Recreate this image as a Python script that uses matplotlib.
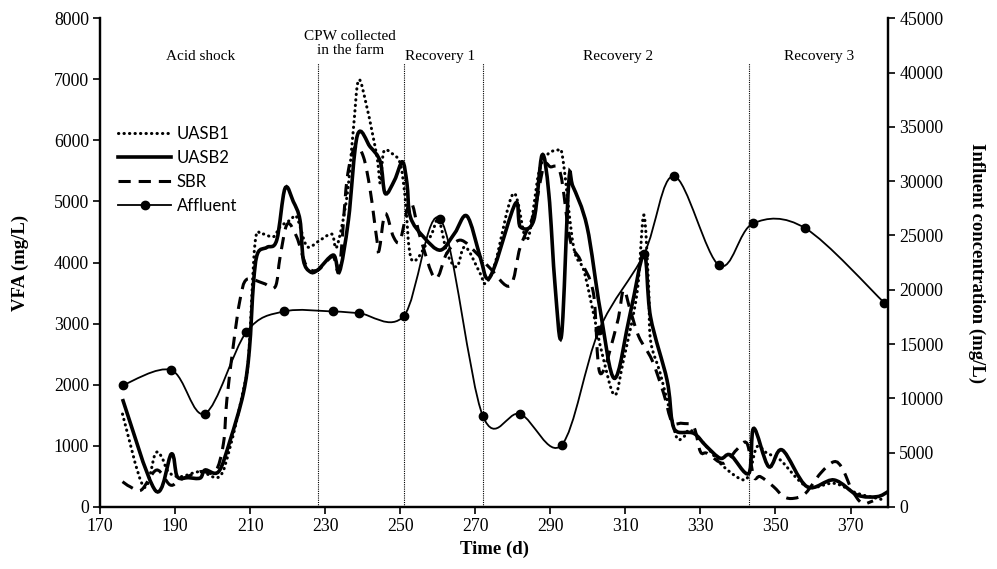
import numpy as np
import matplotlib
matplotlib.use("Agg")
import matplotlib.pyplot as plt
from matplotlib.path import Path
from matplotlib.patches import PathPatch
from matplotlib.lines import Line2D

# VFA series (mg/L)
uasb1_day = [176, 181.6, 184.7, 186.4, 188.2, 191.3, 196.7, 201.8, 204.7, 208.2, 209.6, 211.3,
             213.1, 216.2, 218, 220.7, 222.4, 224.7, 226, 228.7, 231.8, 233.1, 235.8, 237.5,
             238.9, 241.1, 243.8, 244.7, 245.6, 247.8, 250, 251.3, 253.1, 258, 260.2, 262.5,
             265.1, 267.3, 271.3, 272.7, 275.3, 280.2, 283.8, 286.9, 289.1, 292.2, 293.4,
             296.2, 298.9, 301.5, 303.8, 307.1, 309.5, 313.1, 314.9, 316.2, 316.7, 319.3,
             322, 323.8, 325.6, 327.3, 330.9, 336.2, 341.5, 343.3, 345.1, 347.8, 351.3,
             358.4, 365.6, 371.8, 378.9]
uasb1_vfa = [1521, 333, 867, 823, 578, 496, 578, 496, 987, 1914, 2459, 4313,
             4466, 4422, 4586, 4695, 4749, 4313, 4258, 4368, 4466, 4258, 5077, 6168,
             6986, 6549, 5731, 5296, 5813, 5786, 5623, 5077, 4041, 4422, 4707, 4150,
             3931, 4258, 3823, 3660, 3990, 5132, 4368, 5459, 5759, 5841, 5677,
             4258, 3877, 3169, 2514, 1832, 2405, 3496, 4777, 3604, 2732, 2187,
             1533, 1124, 1151, 1260, 1042, 660, 442, 605, 987, 878, 769,
             333, 387, 224, 115]

uasb2_day = [176, 184.8, 189, 190.6, 193.5, 196.7, 198, 201.6, 204.7, 208.2, 209.8, 210.9,
             212, 214.5, 217.1, 219.3, 221.5, 223.3, 224.2, 226, 228, 232.2, 233.8, 236.2,
             238.6, 242, 244.7, 246, 248.5, 250.6, 251.8, 252.7, 256.2, 260.7, 264.5, 267.8,
             271.3, 273.1, 275.3, 280.7, 282, 285.6, 287.8, 289.6, 291.3, 293, 294.9, 296,
             299.8, 303.3, 307.1, 311.3, 315, 316.7, 321.1, 322.4, 323.8, 328.2, 331.5,
             335.3, 338, 342.9, 344.2, 348.2, 351.8, 358.4, 365.6, 371.8, 377.1, 380]
uasb2_vfa = [1767, 267, 867, 496, 480, 474, 605, 578, 1096, 1860, 2568, 3660,
             4150, 4250, 4368, 5214, 5000, 4695, 4041, 3850, 3877, 4123, 3850, 4695,
             6086, 5894, 5650, 5132, 5350, 5650, 5296, 4749, 4422, 4204, 4480, 4761,
             4095, 3741, 3959, 4968, 4586, 4695, 5759, 5132, 3600, 2814, 5296, 5250,
             4586, 3223, 2105, 3169, 4139, 3114, 2078, 1423, 1232, 1206, 1000,
             797, 851, 551, 1287, 660, 933, 333, 442, 196, 169, 251]

sbr_day = [176, 178, 181, 185.1, 188.7, 191.3, 196.7, 200.7, 202.9, 203.8, 205.6, 207.3,
           209.1, 213.6, 216.7, 218, 219.9, 222.4, 225, 228, 232, 233.8, 235.8, 238, 240.2,
           242, 243.8, 244.4, 246, 248.2, 250, 252.7, 255.3, 259.3, 262.4, 266, 270.4, 274,
           279.3, 282, 285.6, 288.2, 290, 292.7, 295.3, 298, 301.5, 303.3, 307.8, 309.5,
           311.3, 313.6, 317.1, 320.2, 322.4, 325.1, 328.2, 330, 331.8, 336.2, 339.6, 342.4,
           344.2, 346, 349.5, 352.2, 354.9, 358, 362, 365.6, 367.8, 370.4, 373.1, 376]
sbr_vfa = [414, 333, 278, 605, 360, 442, 578, 578, 1041, 1750, 2678, 3387,
           3725, 3660, 3604, 4095, 4630, 4422, 3950, 3877, 4100, 3900, 5350, 5894, 5731,
           5186, 4368, 4204, 4800, 4422, 4368, 4995, 4422, 3741, 4150, 4368, 4150, 3905,
           3620, 4258, 4804, 5568, 5568, 5459, 4368, 4041, 3496, 2187, 3005, 3550,
           3223, 2786, 2405, 1860, 1396, 1369, 1314, 905, 878, 715, 933, 1042,
           496, 496, 332, 169, 142, 224, 551, 741, 633, 278, 60, 100]

# influent concentration (mg/L), right axis
aff_day = [176, 189, 198, 209, 219, 232, 239, 251, 260.7, 272, 282, 293, 303, 315, 323, 335,
           344, 358, 379]
aff_conc = [11200, 12600, 8600, 16100, 18000, 18000, 17850, 17600, 26500, 8400, 8560, 5700,
            16300, 23300, 30460, 22240, 26100, 25650, 18800]

phase_lines = [228, 251, 272, 343]
phase_labels = ["Acid shock", "CPW collected\nin the farm", "Recovery 1", "Recovery 2", "Recovery 3"]
phase_label_x = [196.7, 236.7, 260.7, 308, 361.5]


def smooth_path(x, y):
    # excel-style smoothed line through the points (catmull-rom as bezier)
    pts = np.column_stack([x, y]).astype(float)
    n = len(pts)
    verts = [pts[0]]
    codes = [Path.MOVETO]
    for i in range(n - 1):
        p0 = pts[i - 1] if i > 0 else pts[i]
        p1, p2 = pts[i], pts[i + 1]
        p3 = pts[i + 2] if i + 2 < n else pts[i + 1]
        verts += [p1 + (p2 - p0) / 6, p2 - (p3 - p1) / 6, p2]
        codes += [Path.CURVE4] * 3
    return Path(verts, codes)


serif = "Liberation Serif"
plt.rcParams["font.family"] = serif

fig = plt.figure(figsize=(9.97, 5.69), dpi=100)
ax = fig.add_subplot(111)
fig.subplots_adjust(left=0.1003, right=0.8907, bottom=0.109, top=0.968)
ax2 = ax.twinx()

dot_style = dict(lw=2.2, ls=(0, (0.1, 1.7)), capstyle="round")
solid_style = dict(lw=2.6, ls="-")
dash_style = dict(lw=2.2, ls=(0, (4, 2.6)))

ax.add_patch(PathPatch(smooth_path(uasb1_day, uasb1_vfa), fill=False, ec="k", **dot_style))
ax.add_patch(PathPatch(smooth_path(sbr_day, sbr_vfa), fill=False, ec="k", **dash_style))
ax.add_patch(PathPatch(smooth_path(uasb2_day, uasb2_vfa), fill=False, ec="k", **solid_style))

ax2.add_patch(PathPatch(smooth_path(aff_day, aff_conc), fill=False, ec="k", lw=1.3))
ax2.plot(aff_day, aff_conc, "o", color="k", ms=6, ls="none")

for d in phase_lines:
    ax.plot([d, d], [0, 7260], color="k", lw=0.8, ls=(0, (1, 1)))
for i, lab in enumerate(phase_labels):
    yy = 7590 if "\n" in lab else 7380
    ax.text(phase_label_x[i], yy, lab, ha="center", va="center", fontsize=11,
            linespacing=1.1)

ax.set_xlim(170, 380)
ax.set_ylim(0, 8000)
ax2.set_ylim(0, 45000)
ax.set_xticks(np.arange(170, 371, 20))
ax.set_yticks(np.arange(0, 8001, 1000))
ax2.set_yticks(np.arange(0, 45001, 5000))

for a in (ax, ax2):
    a.spines["top"].set_visible(False)
    for s in ("left", "right", "bottom"):
        a.spines[s].set_linewidth(1.6)
    a.tick_params(direction="out", length=5, width=1.2, labelsize=12.8, pad=3)

ax.set_xlabel("Time (d)", fontsize=13.5, fontweight="bold", labelpad=4)
ax.set_ylabel("VFA (mg/L)", fontsize=13.5, fontweight="bold", labelpad=18)
ax2.set_ylabel("Influent concentration (mg/L)", fontsize=13.5, fontweight="bold",
               rotation=270, labelpad=30)

handles = [
    Line2D([], [], color="k", lw=2.2, ls=(0, (0.1, 1.7)), dash_capstyle="round"),
    Line2D([], [], color="k", **solid_style),
    Line2D([], [], color="k", **dash_style),
    Line2D([], [], color="k", lw=1.3, marker="o", ms=6),
]
ax.legend(handles, ["UASB1", "UASB2", "SBR", "Affluent"], loc="upper left",
          bbox_to_anchor=(0.023, 0.78), frameon=False, borderpad=0, borderaxespad=0,
          handlelength=3.2, handletextpad=0.3, labelspacing=0.48, numpoints=1,
          prop={"family": "Lato", "size": 12})

fig.savefig("out.png", dpi=100)
